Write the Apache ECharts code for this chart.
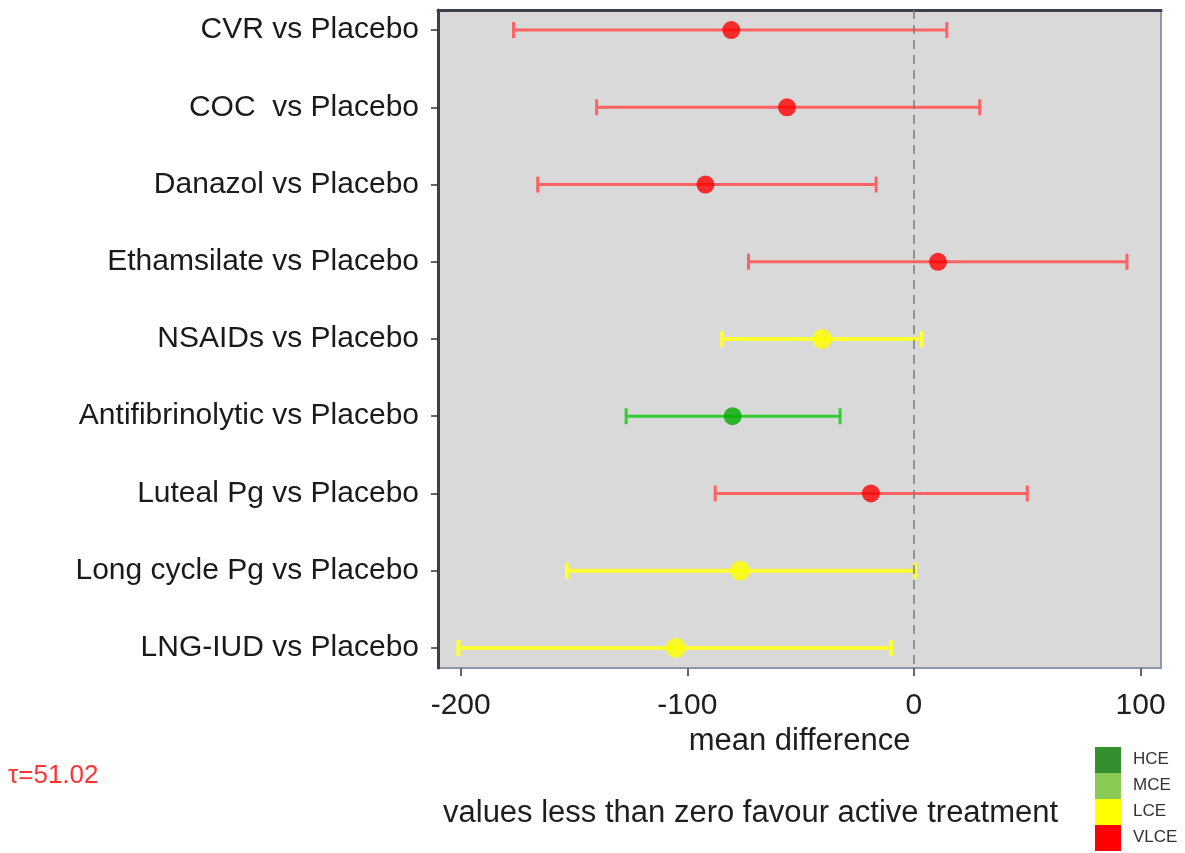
<!DOCTYPE html>
<html>
<head>
<meta charset="utf-8">
<script src="https://cdn.jsdelivr.net/npm/echarts@6/dist/echarts.min.js"></script>
<style>
html,body{margin:0;padding:0;background:#fff;}
#chart{width:1185px;height:853px;}
</style>
</head>
<body>
<div id="chart"></div>
<script>
// ---- data ----
const categories = ['CVR vs Placebo','COC  vs Placebo','Danazol vs Placebo','Ethamsilate vs Placebo','NSAIDs vs Placebo','Antifibrinolytic vs Placebo','Luteal Pg vs Placebo','Long cycle Pg vs Placebo','LNG-IUD vs Placebo'];
const meanDiff = [-80.6, -56, -92, 10.6, -40.5, -80, -19, -76.7, -105];
const lower   = [-176.7, -140, -166, -73, -84.6, -127, -87.7, -153, -201];
const upper   = [14.5, 29, -16.7, 94, 3.5, -32.6, 50, 0.4, -10];
const grade   = ['VLCE','VLCE','VLCE','VLCE','LCE','MCE','VLCE','LCE','LCE'];
const xTicks  = [-200, -100, 0, 100];
const legendItems = ['HCE','MCE','LCE','VLCE'];

// ---- styles ----
const lineColor = {HCE:'#2e8b2e', MCE:'#33cc33', LCE:'#ffff33', VLCE:'#ff6262'};
const dotColor  = {HCE:'#1f7a1f', MCE:'#00aa00', LCE:'#ffff00', VLCE:'#ff0000'};
const lineWidth = {HCE:3, MCE:3, LCE:4, VLCE:3};
const dotSize   = {HCE:18, MCE:18, LCE:20, VLCE:18};
const legendColor = {HCE:'#33902f', MCE:'#8acb55', LCE:'#ffff00', VLCE:'#ff0000'};

const FONT = '"Liberation Sans", Arial, sans-serif';

const errData = categories.map((c,i)=>[lower[i], upper[i], i+1, i]);
const dotData = categories.map((c,i)=>({value:[meanDiff[i], i+1], itemStyle:{color:dotColor[grade[i]]}, symbolSize:dotSize[grade[i]]}));

const chart = echarts.init(document.getElementById('chart'), null, {renderer:'canvas'});

const legendGraphics = [];
legendItems.forEach((g,k)=>{
  legendGraphics.push({type:'rect', left:1095, top:747 + k*26, shape:{width:26, height:26}, style:{fill:legendColor[g]}});
  legendGraphics.push({type:'text', left:1133, top:751 + k*26, style:{text:g, font:'17px ' + FONT, fill:'#333'}});
});

chart.setOption({
  animation:false,
  backgroundColor:'#ffffff',
  grid:{left:438, right:24, top:10, bottom:185, show:true, backgroundColor:'#d9d9d9', borderColor:'#8e97aa', borderWidth:2},
  xAxis:[{
    type:'value', min:-210, max:109,
    name:'mean difference', nameLocation:'middle', nameGap:57,
    nameTextStyle:{fontFamily:FONT, fontSize:31, color:'#1e1e1e'},
    splitLine:{show:false},
    axisLine:{show:false},
    axisTick:{show:true, length:8, customValues:xTicks, lineStyle:{color:'#666', width:2}},
    axisLabel:{customValues:xTicks, fontFamily:FONT, fontSize:30, color:'#1e1e1e', margin:23}
  },{
    type:'value', position:'top', min:-210, max:109,
    axisLine:{show:true, onZero:false, lineStyle:{color:'#3a4050', width:3}},
    axisTick:{show:false}, axisLabel:{show:false}, splitLine:{show:false}
  }],
  yAxis:{
    type:'value', min:0.74, max:9.26, inverse:true,
    splitLine:{show:false},
    axisLine:{show:true, onZero:false, lineStyle:{color:'#3a4050', width:3}},
    axisTick:{show:true, length:7, customValues:[1,2,3,4,5,6,7,8,9], lineStyle:{color:'#333', width:1.5}},
    axisLabel:{customValues:[1,2,3,4,5,6,7,8,9], fontFamily:FONT, fontSize:30, color:'#1a1a1a', margin:19,
      formatter:(v)=>categories[Math.round(v)-1] || ''}
  },
  graphic:[
    {type:'text', left:443, top:798, style:{text:'values less than zero favour active treatment', font:'31px ' + FONT, fill:'#1e1e1e'}},
    {type:'text', left:8, top:763, style:{text:'τ=51.02', font:'26px ' + FONT, fill:'#ff3333'}}
  ].concat(legendGraphics),
  series:[
    {
      type:'custom',
      renderItem:(params, api)=>{
        const lo = api.coord([api.value(0), api.value(2)]);
        const hi = api.coord([api.value(1), api.value(2)]);
        const g = grade[api.value(3)];
        const st = {stroke:lineColor[g], lineWidth:lineWidth[g]};
        const cap = 8;
        return {type:'group', children:[
          {type:'line', shape:{x1:lo[0], y1:lo[1], x2:hi[0], y2:hi[1]}, style:st},
          {type:'line', shape:{x1:lo[0], y1:lo[1]-cap, x2:lo[0], y2:lo[1]+cap}, style:st},
          {type:'line', shape:{x1:hi[0], y1:hi[1]-cap, x2:hi[0], y2:hi[1]+cap}, style:st}
        ]};
      },
      encode:{x:[0,1], y:2},
      data:errData,
      z:2
    },
    {
      type:'scatter',
      data:dotData,
      z:3,
      markLine:{
        silent:true, symbol:'none', label:{show:false},
        lineStyle:{color:'#7a7a7a', type:[9,6], width:1.5},
        data:[{xAxis:0}]
      }
    }
  ]
});
</script>
</body>
</html>
